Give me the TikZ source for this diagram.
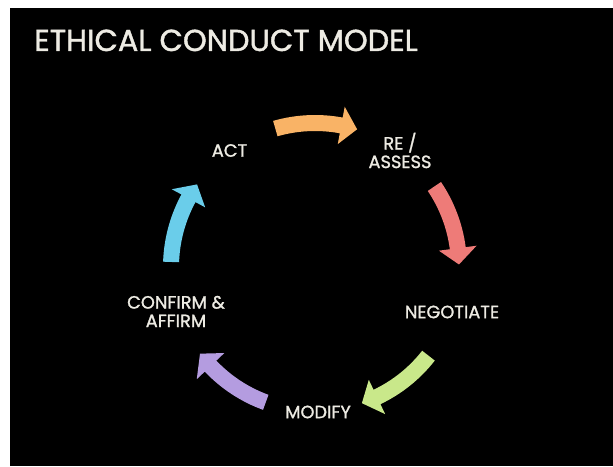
\documentclass[tikz,border=0pt]{standalone}
\usepackage{fontspec}
\setmainfont{Poppins}
\newfontfamily\medfont{Poppins}[FakeBold=1.3]
\definecolor{txt}{HTML}{EDEBE3}
\definecolor{aorange}{HTML}{F9B366}
\definecolor{ared}{HTML}{EE7B78}
\definecolor{agreen}{HTML}{C9E88A}
\definecolor{apurple}{HTML}{B49CE0}
\definecolor{acyan}{HTML}{6ACDEA}
\newcommand\cycarrow[2]{%
  \fill[#2] ({#1+33}:152) arc[start angle={#1+33}, end angle={#1+6.5}, radius=152]
    -- ({#1+6.5}:163) -- (#1:144) -- ({#1+6.5}:125) -- ({#1+6.5}:136)
    arc[start angle={#1+6.5}, end angle={#1+33}, radius=136] -- cycle;}
\begin{document}
\begin{tikzpicture}[x=1pt,y=1pt,
  lbl/.style={text=txt, font=\medfont\fontsize{17.8}{18.5}\selectfont, align=center, inner sep=0pt},
  ttl/.style={text=txt, font=\medfont\fontsize{30.3}{30}\selectfont, inner sep=0pt}]
\fill[white] (0,0) rectangle (613,466);
\fill[black] (10,0) rectangle (613,458);
\useasboundingbox (0,0) rectangle (613,466);
\node[ttl, anchor=base west] (title) at (34,415) {ETHICAL CONDUCT MODEL};
\begin{scope}[shift={(315,199)}]
  \cycarrow{73}{aorange}
  \cycarrow{1}{ared}
  \cycarrow{-71}{agreen}
  \cycarrow{-143}{apurple}
  \cycarrow{145}{acyan}
\end{scope}
\node[lbl] (act) at (229.5,315.5) {ACT};
\node[lbl] (reassess) at (400,315.5) {RE /\\ASSESS};
\node[lbl] (negotiate) at (452,154) {NEGOTIATE};
\node[lbl] (modify) at (318,54) {MODIFY};
\node[lbl] (confirm) at (176,154.5) {CONFIRM \&\\AFFIRM};
\end{tikzpicture}
\end{document}
